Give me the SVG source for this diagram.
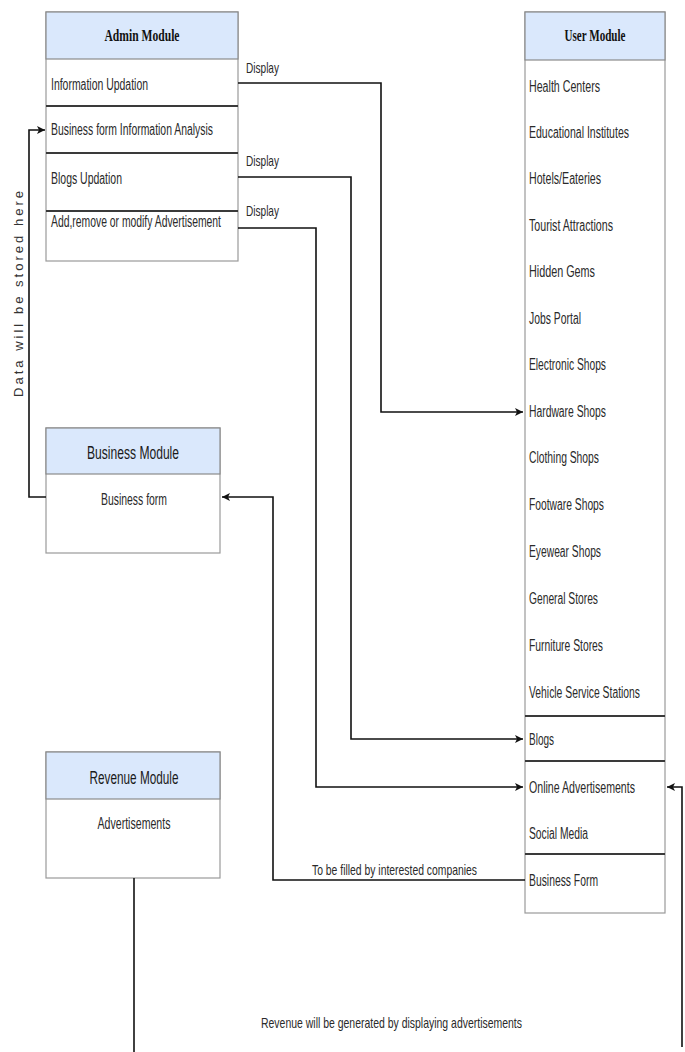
<svg xmlns="http://www.w3.org/2000/svg" width="685" height="1052" viewBox="0 0 685 1052">
<style>
.box{fill:#fff;stroke:#9a9a9a;stroke-width:1.2}
.hdr{fill:#dae8fc;stroke:#8a8a8a;stroke-width:1.2}
.div{stroke:#3a3a3a;stroke-width:2}
.t{font-family:"Liberation Sans",Arial,sans-serif;font-size:16px;fill:#2a2a2a}
.ts{font-family:"Liberation Serif","Times New Roman",serif;font-size:16px;font-weight:bold;fill:#111}
.th{font-family:"Liberation Sans",Arial,sans-serif;font-size:18px;fill:#1a1a1a}
.c{fill:none;stroke:#111;stroke-width:1.6}
.lbl{font-family:"Liberation Sans",Arial,sans-serif;font-size:15px;fill:#2a2a2a}
</style>
<defs>
<marker id="arr" markerWidth="10" markerHeight="10" refX="8" refY="5" orient="auto" markerUnits="userSpaceOnUse">
<path d="M0,1 L8,5 L0,9 L2,5 z" fill="#111"/>
</marker>
</defs>

<g id="admin">
<rect class="box" x="46" y="12" width="192" height="249"/>
<rect class="hdr" x="46" y="12" width="192" height="47"/>
<text class="ts" x="142" y="41" text-anchor="middle" textLength="75" lengthAdjust="spacingAndGlyphs">Admin Module</text>
<line class="div" x1="46" y1="106" x2="238" y2="106"/>
<line class="div" x1="46" y1="153" x2="238" y2="153"/>
<line class="div" x1="46" y1="211" x2="238" y2="211"/>
<text class="t" x="51" y="90" textLength="97" lengthAdjust="spacingAndGlyphs">Information Updation</text>
<text class="t" x="51" y="135" textLength="162" lengthAdjust="spacingAndGlyphs">Business form Information Analysis</text>
<text class="t" x="51" y="184" textLength="71" lengthAdjust="spacingAndGlyphs">Blogs Updation</text>
<text class="t" x="51" y="227" textLength="170" lengthAdjust="spacingAndGlyphs">Add,remove or modify Advertisement</text>
</g>

<g id="user">
<rect class="box" x="525" y="12" width="140" height="901"/>
<rect class="hdr" x="525" y="12" width="140" height="48"/>
<text class="ts" x="595" y="41" text-anchor="middle" textLength="61" lengthAdjust="spacingAndGlyphs">User Module</text>
<line class="div" x1="525" y1="716" x2="665" y2="716"/>
<line class="div" x1="525" y1="761" x2="665" y2="761"/>
<line class="div" x1="525" y1="854" x2="665" y2="854"/>
<text class="t" x="529" y="92" textLength="71" lengthAdjust="spacingAndGlyphs">Health Centers</text>
<text class="t" x="529" y="138" textLength="100" lengthAdjust="spacingAndGlyphs">Educational Institutes</text>
<text class="t" x="529" y="184" textLength="72" lengthAdjust="spacingAndGlyphs">Hotels/Eateries</text>
<text class="t" x="529" y="231" textLength="84" lengthAdjust="spacingAndGlyphs">Tourist Attractions</text>
<text class="t" x="529" y="277" textLength="66" lengthAdjust="spacingAndGlyphs">Hidden Gems</text>
<text class="t" x="529" y="324" textLength="52" lengthAdjust="spacingAndGlyphs">Jobs Portal</text>
<text class="t" x="529" y="370" textLength="77" lengthAdjust="spacingAndGlyphs">Electronic Shops</text>
<text class="t" x="529" y="417" textLength="77" lengthAdjust="spacingAndGlyphs">Hardware Shops</text>
<text class="t" x="529" y="463" textLength="70" lengthAdjust="spacingAndGlyphs">Clothing Shops</text>
<text class="t" x="529" y="510" textLength="75" lengthAdjust="spacingAndGlyphs">Footware Shops</text>
<text class="t" x="529" y="557" textLength="72" lengthAdjust="spacingAndGlyphs">Eyewear Shops</text>
<text class="t" x="529" y="604" textLength="69" lengthAdjust="spacingAndGlyphs">General Stores</text>
<text class="t" x="529" y="651" textLength="74" lengthAdjust="spacingAndGlyphs">Furniture Stores</text>
<text class="t" x="529" y="698" textLength="111" lengthAdjust="spacingAndGlyphs">Vehicle Service Stations</text>
<text class="t" x="529" y="745" textLength="25" lengthAdjust="spacingAndGlyphs">Blogs</text>
<text class="t" x="529" y="793" textLength="106" lengthAdjust="spacingAndGlyphs">Online Advertisements</text>
<text class="t" x="529" y="839" textLength="59" lengthAdjust="spacingAndGlyphs">Social Media</text>
<text class="t" x="529" y="886" textLength="69" lengthAdjust="spacingAndGlyphs">Business Form</text>
</g>

<g id="business">
<rect class="box" x="46" y="428" width="174" height="125"/>
<rect class="hdr" x="46" y="428" width="174" height="46"/>
<text class="th" x="133" y="459" text-anchor="middle" textLength="92" lengthAdjust="spacingAndGlyphs">Business Module</text>
<text class="t" x="134" y="505" text-anchor="middle" textLength="66" lengthAdjust="spacingAndGlyphs">Business form</text>
</g>

<g id="revenue">
<rect class="box" x="46" y="752" width="174" height="126"/>
<rect class="hdr" x="46" y="752" width="174" height="47"/>
<text class="th" x="134" y="784" text-anchor="middle" textLength="89" lengthAdjust="spacingAndGlyphs">Revenue Module</text>
<text class="t" x="134" y="829" text-anchor="middle" textLength="73" lengthAdjust="spacingAndGlyphs">Advertisements</text>
</g>

<g id="connectors">
<polyline class="c" points="238,83 381,83 381,412 523,412" marker-end="url(#arr)"/>
<polyline class="c" points="238,177 351,177 351,739 523,739" marker-end="url(#arr)"/>
<polyline class="c" points="238,228 316,228 316,787 523,787" marker-end="url(#arr)"/>
<polyline class="c" points="525,880 273,880 273,497 222,497" marker-end="url(#arr)"/>
<polyline class="c" points="46,497 29,497 29,130 45,130" marker-end="url(#arr)"/>
<line class="c" x1="134" y1="878" x2="134" y2="1052"/>
<polyline class="c" points="682,1047 682,787 667,787" marker-end="url(#arr)"/>
<text class="lbl" x="246" y="73" textLength="33" lengthAdjust="spacingAndGlyphs">Display</text>
<text class="lbl" x="246" y="166" textLength="33" lengthAdjust="spacingAndGlyphs">Display</text>
<text class="lbl" x="246" y="216" textLength="33" lengthAdjust="spacingAndGlyphs">Display</text>
<text class="lbl" x="312" y="875" textLength="165" lengthAdjust="spacingAndGlyphs">To be filled by interested companies</text>
<text class="lbl" x="261" y="1028" textLength="261" lengthAdjust="spacingAndGlyphs">Revenue will be generated by displaying advertisements</text>
<text x="0" y="0" transform="translate(23,294) rotate(-90)" text-anchor="middle" font-family="'Liberation Sans',Arial,sans-serif" font-size="13" fill="#333" textLength="206" lengthAdjust="spacing">Data will be stored here</text>
</g>
</svg>
